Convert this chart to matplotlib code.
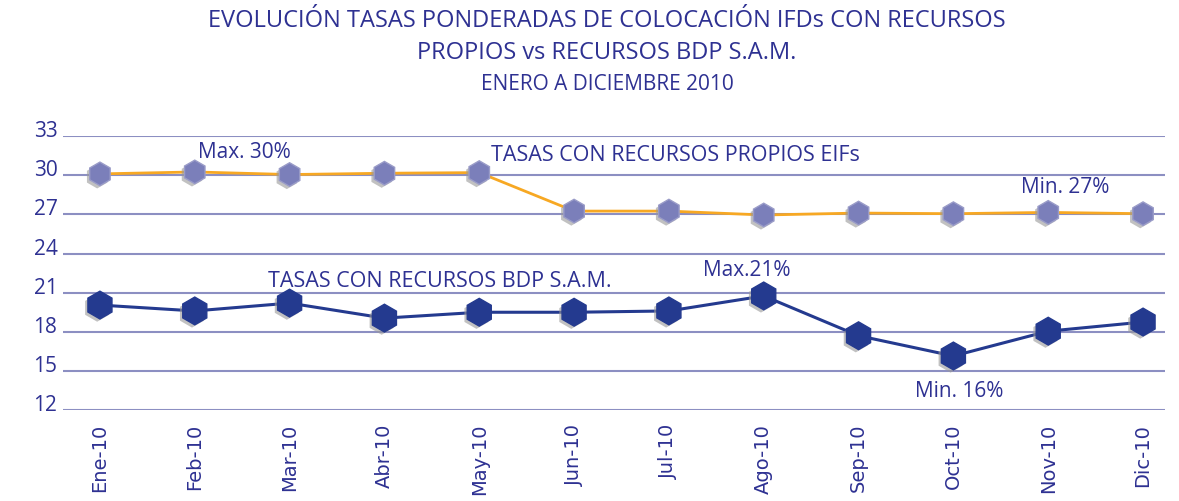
import matplotlib
matplotlib.use("Agg")
import matplotlib.pyplot as plt
import matplotlib.patheffects as pe

# data
months = ["Ene-10", "Feb-10", "Mar-10", "Abr-10", "May-10", "Jun-10",
          "Jul-10", "Ago-10", "Sep-10", "Oct-10", "Nov-10", "Dic-10"]
propios = [30.1, 30.25, 30.05, 30.15, 30.2, 27.25, 27.25, 26.95, 27.1, 27.05, 27.15, 27.05]
bdp = [20.05, 19.6, 20.2, 19.05, 19.5, 19.5, 19.6, 20.75, 17.7, 16.15, 18.05, 18.75]
yticks = [12, 15, 18, 21, 24, 27, 30, 33]

navy = "#2e3192"
grid_col = "#8c8fc2"
orange = "#f7a823"
marker_light = "#7b7fba"
marker_dark = "#243a8f"
title_font = ['DejaVu Sans Condensed', 'Liberation Sans Narrow', 'Open Sans', 'DejaVu Sans']

plt.rcParams['font.family'] = ['Open Sans', 'DejaVu Sans']

fig = plt.figure(figsize=(11.79, 5.02), dpi=100)
ax = fig.add_axes([0.0534, 0.181, 0.9346, 0.546])

x = list(range(len(months)))
shadow = [pe.SimplePatchShadow(offset=(-2, -2), shadow_rgbFace="#999999", alpha=0.6), pe.Normal()]

ax.plot(x, propios, color=orange, lw=2, zorder=3)
ax.plot(x, propios, ls="none", marker="h", ms=17, mfc=marker_light, mec="#9a9cc8", mew=1,
        zorder=4, path_effects=shadow)
ax.plot(x, bdp, color=marker_dark, lw=2.2, zorder=3)
ax.plot(x, bdp, ls="none", marker="h", ms=20, mfc=marker_dark, mec=marker_dark, mew=1,
        zorder=4, path_effects=shadow)

ax.set_xlim(-0.39, 11.23)
ax.set_ylim(12, 33)
ax.set_yticks(yticks)
ax.set_xticks(x)
ax.set_xticklabels(months, rotation=90, fontsize=14, color=navy, family=['DejaVu Sans'])
ax.tick_params(axis="y", length=0, pad=4, labelsize=15, labelcolor=navy)
ax.tick_params(axis="x", length=0, pad=9)
for lab in ax.get_yticklabels():
    lab.set_verticalalignment("baseline")
for s in ax.spines.values():
    s.set_visible(False)
ax.grid(axis="y", color=grid_col, lw=1.5, zorder=1)
ax.set_axisbelow(True)

# annotations
def note(txt, xi, yv, dx, dy):
    ax.annotate(txt, xy=(xi, yv), xytext=(dx, dy), textcoords="offset points",
                ha="center", va="center", fontsize=15, color=navy)

note("Max. 30%", 1, propios[1], 36, 15)
note("Min. 27%", 10, propios[10], 12, 19)
note("Max.21%", 7, bdp[7], -12, 19)
note("Min. 16%", 9, bdp[9], 4, -25)
ax.text(6.07, 31.55, "TASAS CON RECURSOS PROPIOS EIFs", ha="center", va="center",
        fontsize=15.5, color=navy)
ax.text(3.58, 21.95, "TASAS CON RECURSOS BDP S.A.M.", ha="center", va="center",
        fontsize=15.5, color=navy)

fig.text(0.515, 0.958, "EVOLUCIÓN TASAS PONDERADAS DE COLOCACIÓN IFDs CON RECURSOS",
         ha="center", va="center", fontsize=17, color=navy, family=title_font)
fig.text(0.515, 0.895, "PROPIOS vs RECURSOS BDP S.A.M.",
         ha="center", va="center", fontsize=17, color=navy, family=title_font)
fig.text(0.515, 0.832, "ENERO A DICIEMBRE 2010",
         ha="center", va="center", fontsize=15, color=navy, family=title_font)

fig.savefig("out.png", dpi=100)
